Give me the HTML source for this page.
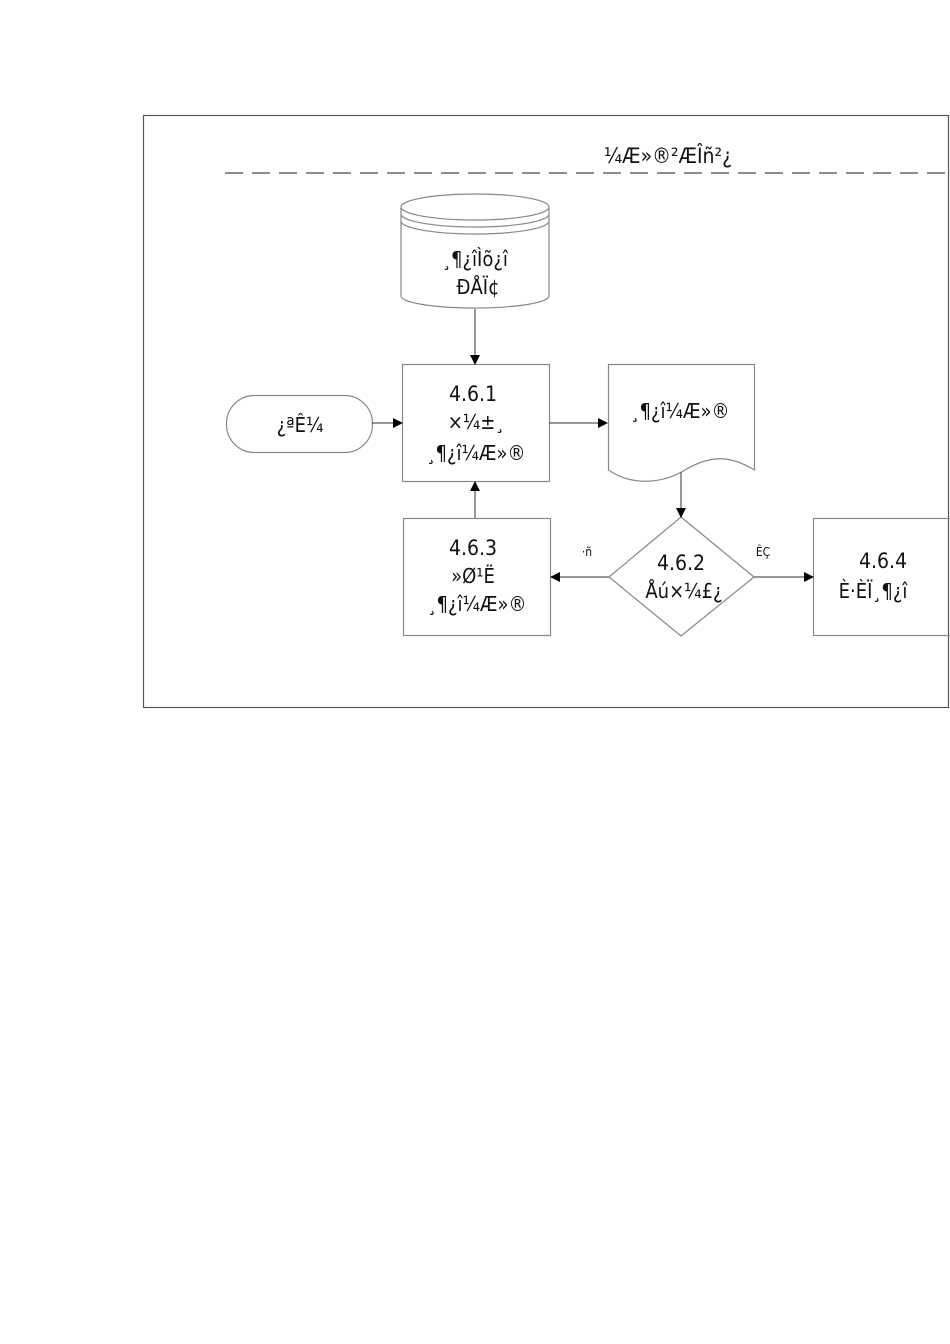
<!DOCTYPE html>
<html><head><meta charset="utf-8"><style>body{margin:0;background:#fff}svg{display:block}text{font-family:"DejaVu Sans Condensed","DejaVu Sans","Liberation Sans",sans-serif;fill:#111;text-anchor:middle}</style></head><body>
<svg width="950" height="1344" viewBox="0 0 950 1344" xmlns="http://www.w3.org/2000/svg">
<defs><marker id="a" markerWidth="10" markerHeight="10" refX="9" refY="5" orient="auto" markerUnits="userSpaceOnUse"><path d="M0,0 L10,5 L0,10 z" fill="#000"/></marker></defs>
<g fill="none" stroke="#888" stroke-width="1.2">
<rect x="143.5" y="115.5" width="805" height="592" stroke="#555"/>
<line x1="225" y1="173" x2="950" y2="173" stroke="#666" stroke-width="1.5" stroke-dasharray="18,9"/>
<path d="M401,208 L401,296 A74,12 0 0 0 549,296 L549,208"/>
<ellipse cx="475" cy="207" rx="74" ry="13"/>
<path d="M401,214 A74,13 0 0 0 549,214"/>
<path d="M401,221 A74,13 0 0 0 549,221"/>
<rect x="402.5" y="364.5" width="147" height="117"/>
<rect x="226.5" y="395.5" width="146" height="57" rx="28"/>
<path d="M608.5,364.5 L754.5,364.5 L754.5,470 C730,455 710,455 685,470 C660,485 630,485 608.5,470 Z"/>
<path d="M681,517 L754,577 L681,636 L609,577 Z"/>
<rect x="403.5" y="518.5" width="147" height="117"/>
<rect x="813.5" y="518.5" width="140" height="117"/>
</g>
<g stroke="#333" stroke-width="1" fill="none">
<line x1="475" y1="309" x2="475" y2="364" marker-end="url(#a)"/>
<line x1="372" y1="423" x2="402" y2="423" marker-end="url(#a)"/>
<line x1="549" y1="423" x2="607" y2="423" marker-end="url(#a)"/>
<line x1="681" y1="472" x2="681" y2="517" marker-end="url(#a)"/>
<line x1="609" y1="577" x2="551" y2="577" marker-end="url(#a)"/>
<line x1="754" y1="577" x2="813" y2="577" marker-end="url(#a)"/>
<line x1="475" y1="518" x2="475" y2="482" marker-end="url(#a)"/>
</g>
<text x="668" y="163" font-size="21">¼Æ»®²ÆÎñ²¿</text>
<text x="475" y="266" font-size="20">¸¶¿îÌõ¿î</text>
<text x="478" y="294" font-size="20">ÐÅÏ¢</text>
<text x="300" y="432" font-size="20">¿ªÊ¼</text>
<text x="473" y="401" font-size="21">4.6.1</text>
<text x="476" y="429" font-size="20">×¼±¸</text>
<text x="476" y="460" font-size="20">¸¶¿î¼Æ»®</text>
<text x="680" y="418" font-size="20">¸¶¿î¼Æ»®</text>
<text x="681" y="570" font-size="21">4.6.2</text>
<text x="684" y="598" font-size="20">Åú×¼£¿</text>
<text x="473" y="555" font-size="21">4.6.3</text>
<text x="473" y="583" font-size="20">»Ø¹Ë</text>
<text x="477" y="611" font-size="20">¸¶¿î¼Æ»®</text>
<text x="883" y="568" font-size="21">4.6.4</text>
<text x="873" y="598" font-size="20">È·ÈÏ¸¶¿î</text>
<text x="587" y="556" font-size="12">·ñ</text>
<text x="763" y="556" font-size="12">ÊÇ</text>
</svg>
</body></html>
